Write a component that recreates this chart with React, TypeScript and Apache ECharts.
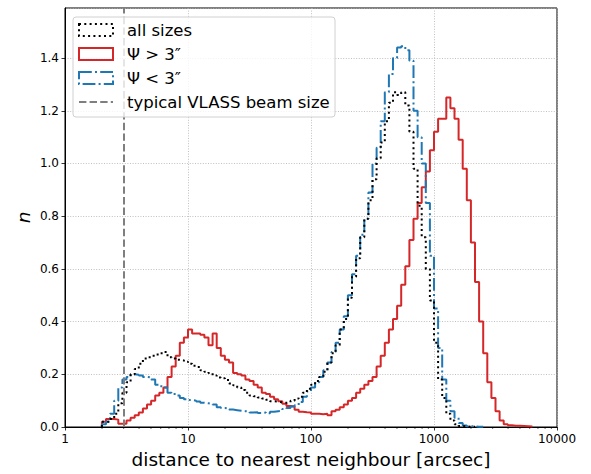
import React, { useEffect, useRef } from "react";
import * as echarts from "echarts";

// Histogram binning: log-spaced bins, 30 per decade, first filled bin starts at 10^(9/30)
const BINS_PER_DECADE = 30;
const FIRST_BIN = 9;

// Normalised counts per bin
const allSizes = [
  0.02, 0.02, 0.03, 0.05, 0.09, 0.13, 0.17, 0.2, 0.22, 0.24,
  0.26, 0.265, 0.27, 0.275, 0.28, 0.285, 0.265, 0.26, 0.255, 0.253,
  0.248, 0.24, 0.232, 0.228, 0.215, 0.21, 0.205, 0.195, 0.188, 0.185,
  0.178, 0.165, 0.158, 0.15, 0.14, 0.13, 0.12, 0.117, 0.112, 0.108,
  0.103, 0.098, 0.096, 0.094, 0.092, 0.094, 0.1, 0.108, 0.115, 0.13,
  0.145, 0.16, 0.175, 0.19, 0.21, 0.245, 0.28, 0.31, 0.37, 0.41,
  0.49, 0.57, 0.64, 0.72, 0.79, 0.86, 0.94, 1.02, 1.08, 1.16,
  1.23, 1.27, 1.26, 1.27, 1.22, 1.12, 0.98, 0.84, 0.72, 0.6,
  0.48, 0.32, 0.18, 0.11, 0.05, 0.025, 0.01, 0.004, 0.002, 0.001,
  0.001,
];

const largeSources = [
  0.02, 0.03, 0.03, 0.028, 0.012, 0.012, 0.025, 0.035, 0.045, 0.055,
  0.07, 0.085, 0.1, 0.12, 0.13, 0.15, 0.19, 0.23, 0.27, 0.32,
  0.34, 0.37, 0.355, 0.355, 0.35, 0.34, 0.31, 0.355, 0.3, 0.27,
  0.255, 0.245, 0.205, 0.2, 0.195, 0.18, 0.175, 0.16, 0.15, 0.13,
  0.125, 0.115, 0.105, 0.098, 0.088, 0.08, 0.078, 0.065, 0.058, 0.056,
  0.055, 0.05, 0.05, 0.048, 0.05, 0.045, 0.06, 0.065, 0.075, 0.085,
  0.1, 0.11, 0.13, 0.145, 0.16, 0.175, 0.19, 0.23, 0.27, 0.32,
  0.37, 0.41, 0.46, 0.54, 0.61, 0.71, 0.79, 0.85, 0.91, 0.97,
  1.05, 1.12, 1.17, 1.17, 1.25, 1.21, 1.17, 1.09, 0.98, 0.86,
  0.7, 0.55, 0.4, 0.28, 0.17, 0.11, 0.06, 0.025, 0.01, 0.007,
  0.005, 0.005, 0.004, 0.003, 0.002,
];

const smallSources = [
  0.01, 0.02, 0.05, 0.1, 0.15, 0.18, 0.19, 0.2, 0.198, 0.195,
  0.19, 0.188, 0.18, 0.16, 0.155, 0.15, 0.13, 0.125, 0.12, 0.11,
  0.105, 0.102, 0.1, 0.097, 0.092, 0.09, 0.088, 0.085, 0.075, 0.072,
  0.07, 0.066, 0.064, 0.062, 0.06, 0.058, 0.055, 0.056, 0.053, 0.055,
  0.052, 0.058, 0.06, 0.062, 0.068, 0.072, 0.078, 0.083, 0.095, 0.115,
  0.135, 0.15, 0.17, 0.19, 0.215, 0.245, 0.285, 0.32, 0.37, 0.42,
  0.5, 0.58, 0.65, 0.73, 0.79, 0.89, 1.0, 1.06, 1.16, 1.27,
  1.34, 1.4, 1.44, 1.445, 1.43, 1.39, 1.2, 1.1, 1.0, 0.85,
  0.65, 0.45, 0.3, 0.18, 0.1, 0.06, 0.035, 0.015, 0.006, 0.003,
  0.002, 0.001, 0.001,
];

const BEAM_SIZE = 3;
const X_MIN = 1;
const X_MAX = 10000;
const Y_MAX = 1.59;
const Y_INTERVAL = 0.2;
const MINOR_MULTIPLIERS = [2, 3, 4, 5, 6, 7, 8, 9];
const DECADES = [1, 10, 100, 1000];

const LEGEND_LABELS = ["all sizes", "Ψ > 3″", "Ψ < 3″", "typical VLASS beam size"];

const edge = (k: number) => Math.pow(10, k / BINS_PER_DECADE);

function stepData(values: number[]) {
  const pts: number[][] = [[edge(FIRST_BIN), 0]];
  values.forEach((v, i) => pts.push([edge(FIRST_BIN + i), v]));
  pts.push([edge(FIRST_BIN + values.length), 0]);
  return pts;
}

const FONT = "DejaVu Sans";

export default function App() {
  const ref = useRef<HTMLDivElement>(null);
  useEffect(() => {
    if (!ref.current) return;
    const chart = echarts.init(ref.current, undefined, { renderer: "svg" });
    const minorTicks: number[][] = [];
    DECADES.forEach((d) => MINOR_MULTIPLIERS.forEach((m) => minorTicks.push([m * d, 0])));

    const legendRowY = [30, 54, 78, 102];
    const handleX = 79;
    const handleW = 34;
    const textX = 127;
    const handles: any[] = [
      { type: "rect", shape: { x: handleX, y: legendRowY[0] - 6, width: handleW, height: 12 }, style: { fill: "none", stroke: "#000", lineWidth: 2, lineDash: [2, 3.3] } },
      { type: "rect", shape: { x: handleX, y: legendRowY[1] - 6, width: handleW, height: 12 }, style: { fill: "none", stroke: "#d62728", lineWidth: 2 } },
      { type: "rect", shape: { x: handleX, y: legendRowY[2] - 6, width: handleW, height: 12 }, style: { fill: "none", stroke: "#1f77b4", lineWidth: 2, lineDash: [12.8, 3.2, 2, 3.2] } },
      { type: "line", shape: { x1: handleX, y1: legendRowY[3], x2: handleX + handleW, y2: legendRowY[3] }, style: { stroke: "#7f7f7f", lineWidth: 2, lineDash: [7.4, 3.2] } },
    ];
    const texts = LEGEND_LABELS.map((t, i) => ({
      type: "text",
      x: textX,
      y: legendRowY[i],
      style: { text: t, fontFamily: FONT, fontSize: 16.5, fill: "#000", textVerticalAlign: "middle", verticalAlign: "middle" },
    }));

    chart.setOption({
      animation: false,
      grid: { left: 65, top: 8, width: 492, height: 421, show: true, borderColor: "#000", borderWidth: 1, backgroundColor: "transparent" },
      xAxis: {
        type: "log",
        logBase: 10,
        min: X_MIN,
        max: X_MAX,
        splitNumber: 4,
        name: "distance to nearest neighbour [arcsec]",
        nameLocation: "middle",
        nameGap: 23,
        nameTextStyle: { fontFamily: FONT, fontSize: 18.5, color: "#000" },
        axisLine: { show: true, lineStyle: { color: "#000", width: 1 } },
        axisTick: { show: true, length: 3.5, lineStyle: { color: "#000", width: 0.8 } },
        axisLabel: { fontFamily: FONT, fontSize: 12, color: "#000", margin: 6, formatter: (v: number) => String(Math.round(v)) },
        splitLine: { show: true, lineStyle: { color: "#b0b0b0", width: 0.8, type: [1, 1.6] } },
      },
      yAxis: {
        type: "value",
        min: 0,
        max: Y_MAX,
        interval: Y_INTERVAL,
        name: "n",
        nameLocation: "middle",
        nameGap: 32,
        nameMoveOverlap: false,
        nameTextStyle: { fontFamily: FONT, fontSize: 18.5, fontStyle: "italic", color: "#000" },
        axisLine: { show: true, lineStyle: { color: "#000", width: 1 } },
        axisTick: { show: true, length: 3.5, lineStyle: { color: "#000", width: 0.8 } },
        axisLabel: { fontFamily: FONT, fontSize: 12, color: "#000", margin: 6, showMaxLabel: false, formatter: (v: number) => (Math.abs(v - Y_MAX) < 1e-6 ? "" : v.toFixed(1)) },
        splitLine: { show: true, lineStyle: { color: "#b0b0b0", width: 0.8, type: [1, 1.6] } },
      },
      series: [
        {
          type: "line",
          name: "all sizes",
          step: "end",
          data: stepData(allSizes),
          showSymbol: false,
          symbol: "none",
          lineStyle: { color: "#000", width: 2, type: [2, 3.3] },
          markLine: {
            symbol: "none",
            silent: true,
            label: { show: false },
            lineStyle: { color: "#7f7f7f", width: 2, type: [7.4, 3.2] },
            data: [{ xAxis: BEAM_SIZE }],
          },
          z: 3,
        },
        {
          type: "line",
          name: "large",
          step: "end",
          data: stepData(largeSources),
          showSymbol: false,
          symbol: "none",
          lineStyle: { color: "#d62728", width: 2 },
          z: 2,
        },
        {
          type: "line",
          name: "small",
          step: "end",
          data: stepData(smallSources),
          showSymbol: false,
          symbol: "none",
          lineStyle: { color: "#1f77b4", width: 2, type: [12.8, 3.2, 2, 3.2] },
          z: 2,
        },
        {
          type: "custom",
          silent: true,
          clip: false,
          data: minorTicks,
          renderItem: (params: any, api: any) => {
            const p = api.coord([api.value(0), 0]);
            return {
              type: "line",
              shape: { x1: p[0], y1: p[1], x2: p[0], y2: p[1] + 2 },
              style: { stroke: "#000", lineWidth: 0.6 },
            };
          },
          z: 5,
        },
      ],
      graphic: [
        {
          type: "rect",
          shape: { x: 73, y: 17, width: 262, height: 100, r: 3 },
          style: { fill: "rgba(255,255,255,0.8)", stroke: "#d0d0d0", lineWidth: 1 },
          z: 10,
        },
        ...handles.map((h) => ({ ...h, z: 11 })),
        ...texts.map((t) => ({ ...t, z: 11 })),
      ],
    });
    return () => chart.dispose();
  }, []);
  return <div ref={ref} style={{ position: "absolute", left: 0, top: 0, width: 591, height: 474 }} />;
}
